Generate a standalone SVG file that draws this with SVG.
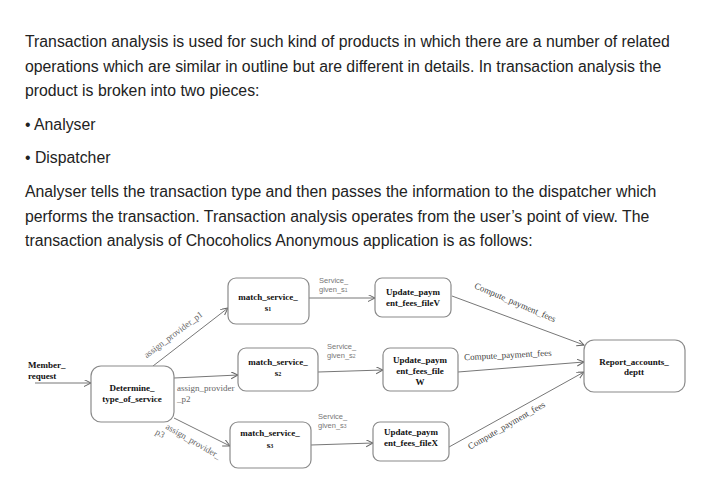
<svg xmlns="http://www.w3.org/2000/svg" width="727" height="493" viewBox="0 0 727 493">
<defs>
<style>
.para{font-family:"Liberation Sans",Arial,sans-serif;font-size:15.8px;fill:#222}
.box{fill:#fff;stroke:#8a8a8a;stroke-width:1.2}
.bt{font-family:"Liberation Serif","Times New Roman",serif;font-size:9px;font-weight:bold;fill:#111;text-anchor:middle}
.lbl{font-family:"Liberation Serif","Times New Roman",serif;font-size:9px;fill:#666}
.cl{font-family:"Liberation Serif","Times New Roman",serif;font-size:9px;fill:#444}
.sl{font-family:"Liberation Sans",Arial,sans-serif;font-size:7.5px;fill:#777}
.ln{stroke:#777;stroke-width:1;fill:none;marker-end:url(#ah)}
</style>
<marker id="ah" markerWidth="8" markerHeight="8" refX="7" refY="3.5" orient="auto" markerUnits="userSpaceOnUse">
<path d="M0,0 L7,3.5 L0,7" fill="none" stroke="#666" stroke-width="1"/>
</marker>
</defs>
<rect width="727" height="493" fill="#fff"/>
<g id="intro-text">
<text class="para" x="25" y="47">Transaction analysis is used for such kind of products in which there are a number of related</text>
<text class="para" x="25" y="72">operations which are similar in outline but are different in details. In transaction analysis the</text>
<text class="para" x="25" y="96">product is broken into two pieces:</text>
<text class="para" x="25" y="130">• Analyser</text>
<text class="para" x="25" y="163">• Dispatcher</text>
<text class="para" x="25" y="197">Analyser tells the transaction type and then passes the information to the dispatcher which</text>
<text class="para" x="25" y="222">performs the transaction. Transaction analysis operates from the user’s point of view. The</text>
<text class="para" x="25" y="246">transaction analysis of Chocoholics Anonymous application is as follows:</text>
</g>
<g id="connectors">
<line class="ln" x1="35" y1="383" x2="91" y2="383"/>
<line class="ln" x1="153" y1="366" x2="228" y2="308"/>
<line class="ln" x1="174" y1="378" x2="238" y2="375"/>
<line class="ln" x1="174" y1="418" x2="230" y2="446"/>
<line class="ln" x1="309" y1="298" x2="375" y2="298"/>
<line class="ln" x1="318" y1="372" x2="383" y2="370"/>
<line class="ln" x1="311" y1="445" x2="373" y2="443"/>
<line class="ln" x1="452" y1="296" x2="584" y2="345"/>
<line class="ln" x1="458" y1="372" x2="584" y2="362"/>
<line class="ln" x1="449" y1="447" x2="584" y2="372"/>
<text class="lbl" transform="translate(175,337) rotate(-37)" text-anchor="middle">assign_provider_p1</text>
<text class="lbl" x="177" y="391">assign_provider</text>
<text class="lbl" x="177" y="402">_p2</text>
<g transform="translate(168,423) rotate(30)">
<text class="lbl" x="0" y="6">assign_provider_</text>
<text class="lbl" x="-6" y="16">p3</text>
</g>
<text class="sl" x="319" y="283">Service_</text>
<text class="sl" x="319" y="292">given_s<tspan font-size="5">1</tspan></text>
<text class="sl" x="327" y="349">Service_</text>
<text class="sl" x="327" y="358">given_s<tspan font-size="5">2</tspan></text>
<text class="sl" x="318" y="419">Service_</text>
<text class="sl" x="318" y="428">given_s<tspan font-size="5">3</tspan></text>
<text class="cl" transform="translate(514,305) rotate(23)" text-anchor="middle">Compute_payment_fees</text>
<text class="cl" transform="translate(508,358) rotate(-3)" text-anchor="middle">Compute_payment_fees</text>
<text class="cl" transform="translate(508,428) rotate(-30)" text-anchor="middle">Compute_payment_fees</text>
</g>
<g id="member-request">
<text class="bt" x="28" y="368" style="text-anchor:start">Member_</text>
<text class="bt" x="28" y="379" style="text-anchor:start">request</text>
</g>
<g id="determine">
<rect class="box" x="91" y="366" width="83" height="56" rx="10"/>
<text class="bt" x="132" y="391">Determine_</text>
<text class="bt" x="132" y="402">type_of_service</text>
</g>
<g id="match-s1">
<rect class="box" x="228" y="278" width="81" height="46" rx="8"/>
<text class="bt" x="268" y="300">match_service_</text>
<text class="bt" x="268" y="311">s<tspan font-size="6">1</tspan></text>
</g>
<g id="match-s2">
<rect class="box" x="238" y="348" width="80" height="43" rx="8"/>
<text class="bt" x="278" y="365">match_service_</text>
<text class="bt" x="278" y="376">s<tspan font-size="6">2</tspan></text>
</g>
<g id="match-s3">
<rect class="box" x="230" y="422" width="81" height="46" rx="8"/>
<text class="bt" x="270" y="436">match_service_</text>
<text class="bt" x="270" y="448">s<tspan font-size="6">3</tspan></text>
</g>
<g id="update-v">
<rect class="box" x="375" y="278" width="76" height="39" rx="7"/>
<text class="bt" x="413" y="295">Update_paym</text>
<text class="bt" x="413" y="306">ent_fees_fileV</text>
</g>
<g id="update-w">
<rect class="box" x="383" y="348" width="75" height="43" rx="7"/>
<text class="bt" x="420" y="363">Update_paym</text>
<text class="bt" x="420" y="374">ent_fees_file</text>
<text class="bt" x="420" y="385">W</text>
</g>
<g id="update-x">
<rect class="box" x="373" y="422" width="76" height="39" rx="7"/>
<text class="bt" x="411" y="435">Update_paym</text>
<text class="bt" x="411" y="446">ent_fees_fileX</text>
</g>
<g id="report">
<rect class="box" x="584" y="340" width="101" height="52" rx="10"/>
<text class="bt" x="634" y="365">Report_accounts_</text>
<text class="bt" x="634" y="375">deptt</text>
</g>
</svg>
